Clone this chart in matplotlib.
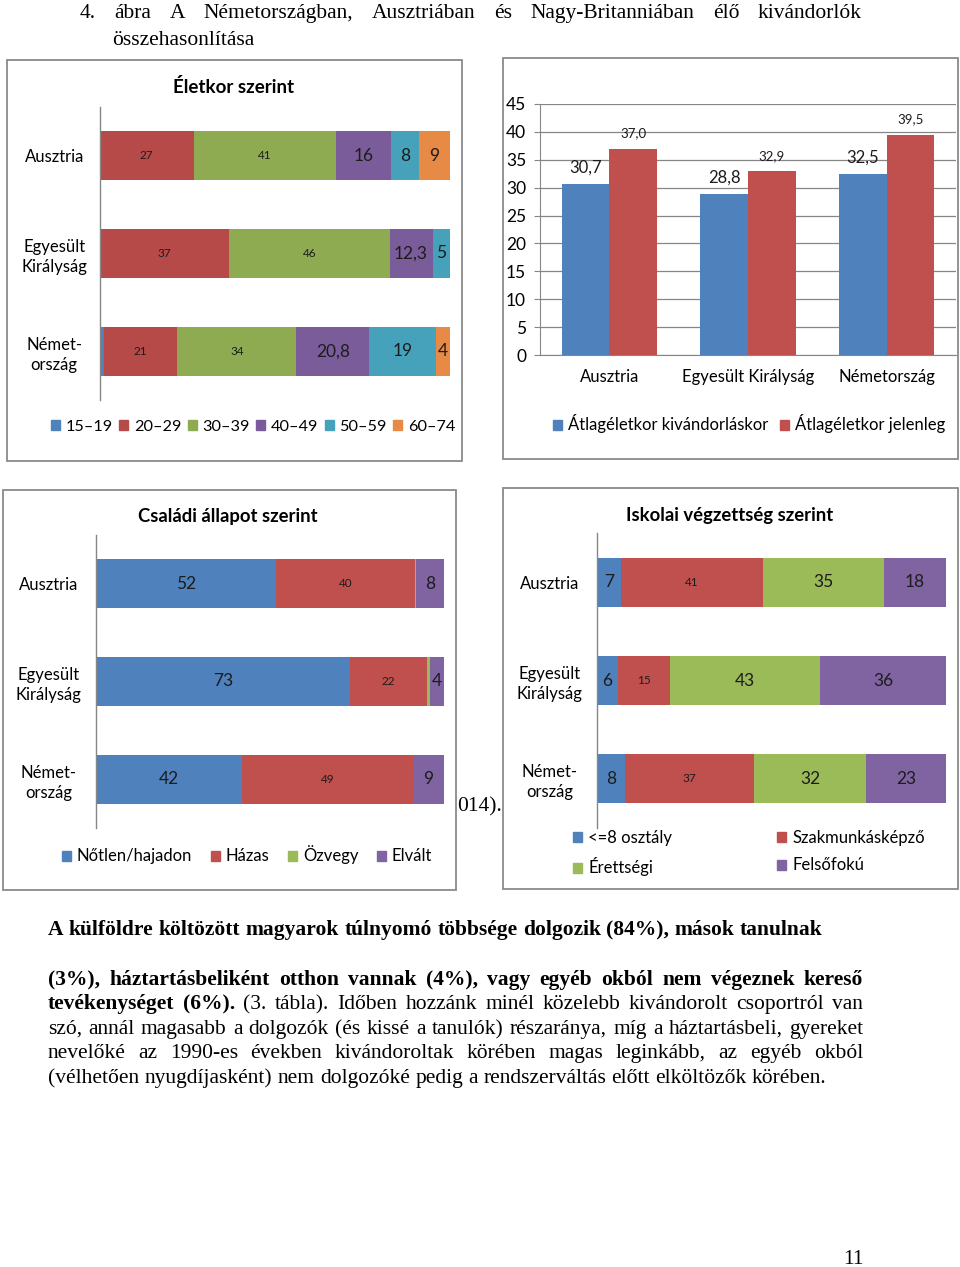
import numpy as np
import matplotlib
matplotlib.use("Agg")
import matplotlib.pyplot as plt
from matplotlib.patches import Rectangle, Patch

W, H = 960, 1267
plt.rcParams['font.family'] = ['Lato', 'DejaVu Sans']

# --- data ---
countries = ['Ausztria', 'Egyesült\nKirályság', 'Német-\nország']
countries_bar = ['Ausztria', 'Egyesült Királyság', 'Németország']

age_groups = ['15–19', '20–29', '30–39', '40–49', '50–59', '60–74']
age_15_19 = [0, 0, 1]
age_20_29 = [27, 37, 21]
age_30_39 = [41, 46, 34]
age_40_49 = [16, 12.3, 20.8]
age_50_59 = [8, 5, 19]
age_60_74 = [9, 0, 4]

mean_age_labels = ['Átlagéletkor kivándorláskor', 'Átlagéletkor jelenleg']
age_at_emigration = [30.7, 28.8, 32.5]
age_now = [37.0, 32.9, 39.5]

marital_groups = ['Nőtlen/hajadon', 'Házas', 'Özvegy', 'Elvált']
single = [52, 73, 42]
married = [40, 22, 49]
widowed = [0.5, 1, 0]
divorced = [8, 4, 9]

edu_groups = ['<=8 osztály', 'Szakmunkásképző', 'Érettségi', 'Felsőfokú']
edu_primary = [7, 6, 8]
edu_vocational = [41, 15, 37]
edu_secondary = [35, 43, 32]
edu_higher = [18, 36, 23]

BLUE, RED, GREEN = '#4F81BD', '#C0504D', '#9BBB59'
PURPLE, AQUA, ORANGE = '#8064A2', '#4BACC6', '#F79646'
GREY = '#868686'
INK = '#1c1c1c'

fig = plt.figure(figsize=(W / 100, H / 100), dpi=100)


def add_ax(x0, y0, x1, y1):
    return fig.add_axes([x0 / W, 1 - y1 / H, (x1 - x0) / W, (y1 - y0) / H])


def frame(x0, y0, x1, y1):
    fig.add_artist(Rectangle((x0 / W, 1 - y1 / H), (x1 - x0) / W, (y1 - y0) / H,
                             transform=fig.transFigure, fill=False, ec='#8a8a8a', lw=1.3))


def fmt(v):
    if float(v).is_integer():
        return str(int(v))
    return f"{v:.1f}".replace('.', ',')


def stacked(ax, series, colors, sizes, pad):
    data = np.array(series, dtype=float)
    shares = data / data.sum(axis=0) * 100
    y = np.arange(len(countries))
    left = np.zeros(len(countries))
    for vals, raw, col, fs in zip(shares, data, colors, sizes):
        bars = ax.barh(y, vals, left=left, height=0.5, color=col)
        if fs:
            ax.bar_label(bars, labels=[fmt(r) if r > 0 else '' for r in raw],
                         label_type='center', fontsize=fs, color=INK)
        left += vals
    ax.set_xlim(0, 100)
    ax.set_ylim(2.5, -0.5)
    ax.set_yticks(y)
    ax.set_yticklabels(countries, ha='center', fontsize=12, linespacing=1.3)
    ax.tick_params(axis='y', length=0, pad=pad)
    ax.set_xticks([])
    for s in ['top', 'right', 'bottom']:
        ax.spines[s].set_visible(False)
    ax.spines['left'].set_color(GREY)
    ax.spines['left'].set_linewidth(1)


def legend(handles, labels, cx, cy, ncol, colsp=0.5, lsp=0.5, fs=12):
    fig.legend(handles, labels, loc='center', bbox_to_anchor=(cx / W, 1 - cy / H),
               ncol=ncol, frameon=False, fontsize=fs, handlelength=0.55, handleheight=0.55,
               handletextpad=0.35, columnspacing=colsp, labelspacing=lsp,
               borderaxespad=0, borderpad=0)


# --- panel frames ---
frame(7, 60, 462, 461)
frame(503, 58, 958, 459)
frame(3, 490, 456, 890)
frame(503, 488, 958, 889)

# --- Életkor szerint ---
ax1 = add_ax(100, 107, 450, 400)
age_colors = [BLUE, '#B64A48', '#8EAB52', '#7A5C9A', '#46A2BA', '#E68A45']
stacked(ax1, [age_15_19, age_20_29, age_30_39, age_40_49, age_50_59, age_60_74],
        age_colors, [0, 8.5, 8.5, 12.5, 12.5, 12.5], pad=33)
fig.text(234 / W, 1 - 87 / H, 'Életkor szerint', ha='center', va='center',
         fontsize=13.5, weight='bold')
legend([Patch(color=c) for c in age_colors], age_groups, 253, 427, 6, colsp=0.4, fs=11.7)

# --- Átlagéletkor ---
ax2 = add_ax(540, 104, 956, 355)
x = np.arange(len(countries_bar))
w = 0.343
b1 = ax2.bar(x - w / 2, age_at_emigration, w, color=BLUE, zorder=3)
b2 = ax2.bar(x + w / 2, age_now, w, color=RED, zorder=3)
ax2.bar_label(b1, labels=[f"{v:.1f}".replace('.', ',') for v in age_at_emigration],
              padding=6, fontsize=12, color=INK)
ax2.bar_label(b2, labels=[f"{v:.1f}".replace('.', ',') for v in age_now],
              padding=7, fontsize=9.5, color=INK)
ax2.set_ylim(0, 45)
ax2.set_yticks(range(0, 46, 5))
ax2.set_xlim(-0.5, 2.5)
ax2.set_xticks(x)
ax2.set_xticklabels(countries_bar, fontsize=12)
ax2.tick_params(axis='x', length=0, pad=10)
ax2.tick_params(axis='y', length=4, color=GREY, labelsize=12.5, pad=6)
ax2.yaxis.grid(True, color=GREY, lw=0.9)
ax2.set_axisbelow(True)
for s in ['top', 'right']:
    ax2.spines[s].set_visible(False)
for s in ['left', 'bottom']:
    ax2.spines[s].set_color(GREY)
legend([Patch(color=BLUE), Patch(color=RED)], mean_age_labels, 749, 424, 2, colsp=0.75)

# --- Családi állapot szerint ---
ax3 = add_ax(96, 535, 444, 828)
mar_colors = [BLUE, RED, GREEN, PURPLE]
stacked(ax3, [single, married, widowed, divorced], mar_colors,
        [12.5, 8.5, 0, 12.5], pad=34)
fig.text(228 / W, 1 - 517 / H, 'Családi állapot szerint', ha='center', va='center',
         fontsize=13.3, weight='bold')
legend([Patch(color=c) for c in mar_colors], marital_groups, 247, 855, 4, colsp=1.1)

# --- Iskolai végzettség szerint ---
ax4 = add_ax(597, 533, 946, 828)
stacked(ax4, [edu_primary, edu_vocational, edu_secondary, edu_higher], mar_colors,
        [12.5, 8.5, 12.5, 12.5], pad=34)
fig.text(730 / W, 1 - 515 / H, 'Iskolai végzettség szerint', ha='center', va='center',
         fontsize=13.3, weight='bold')
legend([Patch(color=BLUE), Patch(color=GREEN), Patch(color=RED), Patch(color=PURPLE)],
       [edu_groups[0], edu_groups[2], edu_groups[1], edu_groups[3]], 749, 853, 2,
       colsp=6.3, lsp=0.72)

# --- surrounding page text ---
renderer = fig.canvas.get_renderer()
SERIF = 'Liberation Serif'
BODY = 15.5


def text_line(segments, x0, yb, x1=None, size=BODY):
    words = []
    for txt, bold in segments:
        for wd in txt.split():
            words.append((wd, bold))
    ts = [fig.text(0, 1 - yb / H, wd, fontsize=size, family=SERIF,
                   weight='bold' if b else 'normal', va='baseline') for wd, b in words]
    widths = [t.get_window_extent(renderer).width for t in ts]
    if x1 is None:
        probe = fig.text(0, 0, 'a a', fontsize=size, family=SERIF)
        probe2 = fig.text(0, 0, 'aa', fontsize=size, family=SERIF)
        gap = probe.get_window_extent(renderer).width - probe2.get_window_extent(renderer).width
        probe.remove()
        probe2.remove()
    else:
        gap = (x1 - x0 - sum(widths)) / (len(ts) - 1)
    xx = x0
    for t, wd in zip(ts, widths):
        t.set_x(xx / W)
        xx += wd + gap


text_line([('4. ábra A Németországban, Ausztriában és Nagy-Britanniában élő kivándorlók', False)],
          80, 18, 862)
text_line([('összehasonlítása', False)], 112, 45)
text_line([('014).', False)], 457, 811)

text_line([('A külföldre költözött magyarok túlnyomó többsége dolgozik (84%), mások tanulnak', True)],
          48, 935)
text_line([('(3%), háztartásbeliként otthon vannak (4%), vagy egyéb okból nem végeznek kereső', True)],
          48, 985, 863)
text_line([('tevékenységet (6%).', True),
           ('(3. tábla). Időben hozzánk minél közelebb kivándorolt csoportról van', False)],
          48, 1009, 863)
text_line([('szó, annál magasabb a dolgozók (és kissé a tanulók) részaránya, míg a háztartásbeli, gyereket', False)],
          48, 1034, 863)
text_line([('nevelőké az 1990-es években kivándoroltak körében magas leginkább, az egyéb okból', False)],
          48, 1058, 863)
text_line([('(vélhetően nyugdíjasként) nem dolgozóké pedig a rendszerváltás előtt elköltözők körében.', False)],
          48, 1083)
text_line([('11', False)], 843, 1264)

fig.savefig('out.png', dpi=100)
